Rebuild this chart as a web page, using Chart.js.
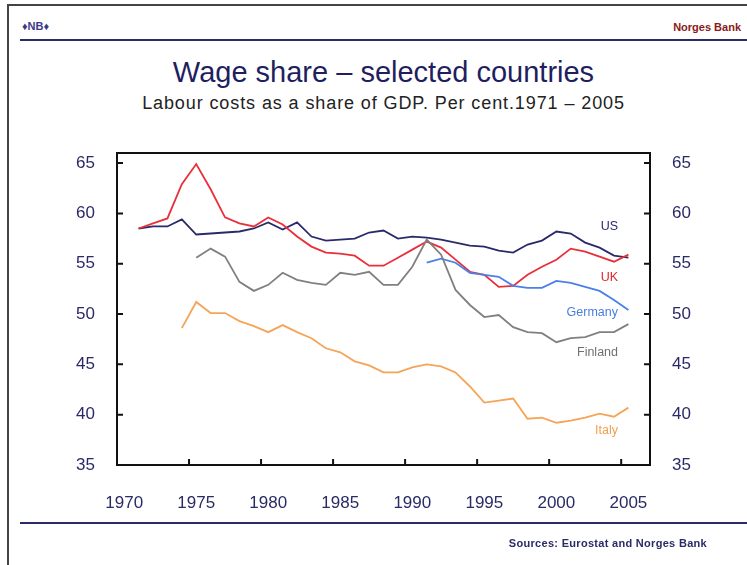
<!DOCTYPE html>
<html>
<head>
<meta charset="utf-8">
<script src="https://cdn.jsdelivr.net/npm/chart.js@4"></script>
<style>
  body { margin: 0; background: #fff; font-family: "Liberation Sans", Arial, sans-serif; }
  #page { position: relative; width: 747px; height: 565px; overflow: hidden; }
  #frame { position: absolute; left: 7px; top: 4px; width: 760px; height: 600px; border: 2px solid #444; }
  .hline { position: absolute; left: 20px; width: 740px; height: 2px; background: #2b2b66; }
  .txt { position: absolute; white-space: nowrap; }
  #logo { left: 22px; top: 20px; font-size: 11px; font-weight: bold; color: #3a3a8a; }
  #bank { right: 6px; top: 21px; font-size: 11px; font-weight: bold; color: #8a1a1a; }
  #title { left: 0; width: 767px; text-align: center; top: 56px; font-size: 29px; color: #1f1f5f; }
  #subtitle { left: 0; width: 767px; text-align: center; top: 93px; font-size: 18px; color: #222; letter-spacing: 0.9px; }
  #source { right: 40px; top: 537px; font-size: 11px; font-weight: bold; color: #2b2b66; letter-spacing: 0.3px; }
  .lab { position: absolute; font-size: 12.5px; text-align: right; right: 129px; white-space: nowrap; }
  canvas { position: absolute; left: 0; top: 0; }
</style>
</head>
<body>
<div id="page">
  <div id="frame"></div>
  <div class="txt" id="logo">&#9830;NB&#9830;</div>
  <div class="txt" id="bank">Norges Bank</div>
  <div class="hline" style="top:39px"></div>
  <div class="txt" id="title">Wage share – selected countries</div>
  <div class="txt" id="subtitle">Labour costs as a share of GDP. Per cent.1971 – 2005</div>
  <canvas id="grafico" width="747" height="565"></canvas>
  <div class="lab" style="top:219px;color:#2a2a66">US</div>
  <div class="lab" style="top:270px;color:#e02828">UK</div>
  <div class="lab" style="top:305px;color:#4a7fe0">Germany</div>
  <div class="lab" style="top:345px;color:#707070">Finland</div>
  <div class="lab" style="top:423px;color:#f0a050">Italy</div>
  <div class="hline" style="top:522px"></div>
  <div class="txt" id="source">Sources: Eurostat and Norges Bank</div>
</div>
<script>
// años de las marcas y valores (porcentaje del PIB)
const ticksAnios = [1970, 1975, 1980, 1985, 1990, 1995, 2000, 2005];
const ticksValor = [35, 40, 45, 50, 55, 60, 65];

const inicioUS = 1971;
const us = [58.5, 58.7, 58.7, 59.4, 57.9, 58.0, 58.1, 58.2, 58.5, 59.1,
  58.4, 59.1, 57.7, 57.3, 57.4, 57.5, 58.1, 58.3, 57.5, 57.7,
  57.6, 57.4, 57.1, 56.8, 56.7, 56.3, 56.1, 56.9, 57.3, 58.2,
  58.0, 57.1, 56.6, 55.8, 55.6];

const inicioUK = 1971;
const uk = [58.5, 59.0, 59.5, 62.9, 64.9, 62.4, 59.6, 59.0, 58.7, 59.6,
  58.9, 57.7, 56.7, 56.1, 56.0, 55.8, 54.8, 54.8, 55.6, 56.4,
  57.2, 56.6, 55.4, 54.2, 53.9, 52.7, 52.8, 53.9, 54.7, 55.4,
  56.5, 56.2, 55.7, 55.2, 55.9];

const inicioGermany = 1991;
const germany = [55.1, 55.5, 55.1, 54.1, 53.9, 53.7, 52.8, 52.6, 52.6, 53.3,
  53.1, 52.7, 52.3, 51.4, 50.4];

const inicioFinland = 1975;
const finland = [55.6, 56.5, 55.7, 53.2, 52.3, 52.9,
  54.1, 53.4, 53.1, 52.9, 54.1, 53.9, 54.2, 52.9, 52.9, 54.7,
  57.4, 55.9, 52.4, 50.9, 49.7, 49.9, 48.7, 48.2, 48.1, 47.2,
  47.6, 47.7, 48.2, 48.2, 49.0];

const inicioItaly = 1974;
const italy = [48.6, 51.2, 50.1, 50.1, 49.3, 48.8, 48.2,
  48.9, 48.2, 47.6, 46.6, 46.2, 45.3, 44.9, 44.2, 44.2, 44.7,
  45.0, 44.8, 44.2, 42.8, 41.2, 41.4, 41.6, 39.6, 39.7, 39.2,
  39.4, 39.7, 40.1, 39.8, 40.7];

function serie(inicio, valores) {
  return valores.map((v, i) => ({ x: inicio + i, y: v }));
}

// caja del gráfico y marcas hacia dentro
const marco = {
  id: 'marco',
  afterDraw(chart) {
    const { ctx, chartArea: a, scales } = chart;
    ctx.save();
    ctx.strokeStyle = '#111';
    ctx.lineWidth = 2;
    ctx.strokeRect(a.left, a.top, a.right - a.left, a.bottom - a.top);
    ctx.beginPath();
    ticksValor.forEach(v => {
      const y = scales.y.getPixelForValue(v);
      ctx.moveTo(a.left, y); ctx.lineTo(a.left + 6, y);
      ctx.moveTo(a.right, y); ctx.lineTo(a.right - 6, y);
    });
    ticksAnios.forEach(anio => {
      const x = scales.x.getPixelForValue(anio - 0.5);
      ctx.moveTo(x, a.bottom); ctx.lineTo(x, a.bottom - 6);
    });
    ctx.stroke();
    ctx.restore();
  }
};

const fuenteTicks = { family: '"Liberation Sans", Arial, sans-serif', size: 17 };
const colorTicks = '#2a2a66';

const ejeY = (pos) => ({
  type: 'linear',
  position: pos,
  min: 35,
  max: 66,
  afterBuildTicks: s => { s.ticks = ticksValor.map(v => ({ value: v })); },
  afterFit: s => { s.width = pos === 'left' ? 117 : 97; },
  grid: { display: false },
  border: { display: false },
  ticks: { color: colorTicks, font: fuenteTicks, padding: 14 }
});

new Chart(document.getElementById('grafico'), {
  type: 'line',
  data: {
    datasets: [
      { label: 'Italy', data: serie(inicioItaly, italy), borderColor: '#f5a458' },
      { label: 'Finland', data: serie(inicioFinland, finland), borderColor: '#808080' },
      { label: 'Germany', data: serie(inicioGermany, germany), borderColor: '#4a80e8' },
      { label: 'UK', data: serie(inicioUK, uk), borderColor: '#e8303a' },
      { label: 'US', data: serie(inicioUS, us), borderColor: '#2a2a6a' }
    ]
  },
  options: {
    responsive: false,
    animation: false,
    layout: { padding: { top: 153 } },
    elements: {
      line: { borderWidth: 1.8, tension: 0, fill: false },
      point: { radius: 0 }
    },
    plugins: { legend: { display: false }, tooltip: { enabled: false } },
    scales: {
      x: {
        type: 'linear',
        min: 1969.5,
        max: 2006.5,
        afterBuildTicks: s => { s.ticks = ticksAnios.map(v => ({ value: v })); },
        afterFit: s => { s.height = 100; },
        grid: { display: false },
        border: { display: false },
        ticks: { color: colorTicks, font: fuenteTicks, padding: 20, maxRotation: 0, callback: v => String(v) }
      },
      y: ejeY('left'),
      y2: ejeY('right')
    }
  },
  plugins: [marco]
});
</script>
</body>
</html>
